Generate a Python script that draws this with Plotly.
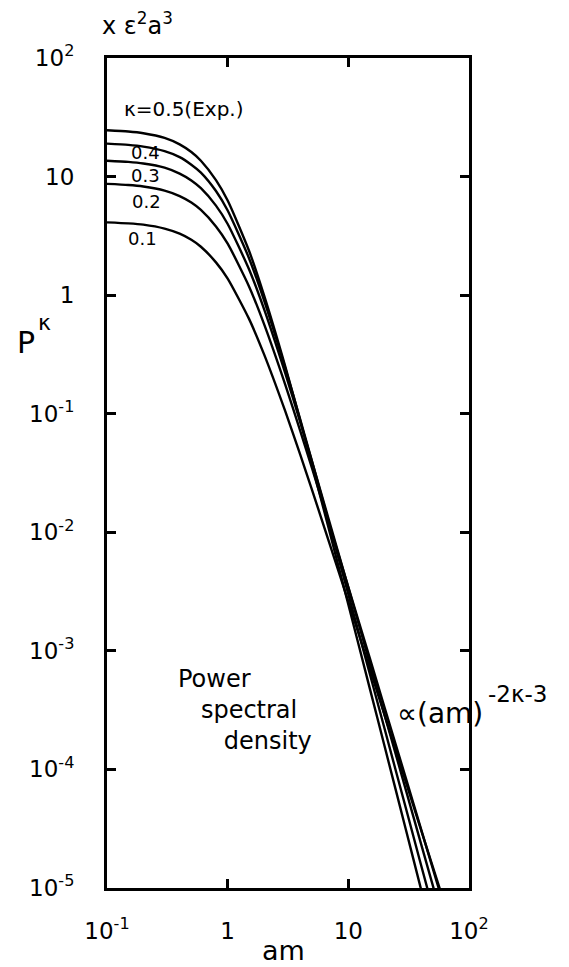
import plotly.graph_objects as go

# Wavenumber (am) sample points
am = [0.1, 0.15, 0.2, 0.3, 0.4, 0.5, 0.6, 0.8, 1, 1.5, 2, 3, 4, 5, 7, 10, 15, 20, 30, 40, 60]

# Power spectral density P^kappa (units x eps^2 a^3)
p_k05 = [24.6, 24.0, 23.2, 21.2, 18.7, 16.1, 13.6, 9.34, 6.28, 2.38, 1.0, 0.251, 0.087, 0.0372, 0.01005, 2.46e-3, 4.9e-4, 1.56e-4, 3.1e-5, 9.8e-6, 1.94e-6]
p_k04 = [18.95, 18.5, 17.9, 16.4, 14.6, 12.6, 10.8, 7.55, 5.17, 2.06, 0.907, 0.243, 0.0887, 0.0396, 0.0114, 3.0e-3, 6.5e-4, 2.19e-4, 4.7e-5, 1.57e-5, 3.4e-6]
p_k03 = [13.6, 13.3, 12.9, 11.9, 10.6, 9.28, 7.98, 5.69, 3.98, 1.66, 0.766, 0.22, 0.0846, 0.0394, 0.0121, 3.42e-3, 8.0e-4, 2.87e-4, 6.7e-5, 2.37e-5, 5.5e-6]
p_k02 = [8.67, 8.49, 8.25, 7.62, 6.85, 6.04, 5.23, 3.8, 2.72, 1.19, 0.572, 0.176, 0.0714, 0.0347, 0.0114, 3.45e-3, 8.8e-4, 3.31e-4, 8.4e-5, 3.15e-5, 7.9e-6]
p_k01 = [4.11, 4.03, 3.93, 3.64, 3.3, 2.93, 2.56, 1.89, 1.38, 0.634, 0.318, 0.105, 0.0449, 0.0228, 8.0e-3, 2.6e-3, 7.2e-4, 2.86e-4, 7.8e-5, 3.1e-5, 8.5e-6]

series = [p_k05, p_k04, p_k03, p_k02, p_k01]

x_tickvals = [0.1, 1, 10, 100]
x_ticktext = ["10<sup>-1</sup>", "1", "10", "10<sup>2</sup>"]
y_tickvals = [1e-5, 1e-4, 1e-3, 1e-2, 1e-1, 1, 10, 100]
y_ticktext = ["10<sup>-5</sup>", "10<sup>-4</sup>", "10<sup>-3</sup>", "10<sup>-2</sup>",
              "10<sup>-1</sup>", "1", "10", "10<sup>2</sup>"]

W, H = 569, 967
L, R, T, B = 107, 100, 58, 79
PW, PH = W - L - R, H - T - B


def px(x):
    return (x - L) / PW


def py(y):
    return (H - B - y) / PH


FONT = "DejaVu Sans"

fig = go.Figure()
for s in series:
    fig.add_trace(go.Scatter(x=am, y=s, mode="lines",
                             line=dict(color="black", width=2.4, shape="spline", smoothing=0.6),
                             showlegend=False, hoverinfo="skip"))

axis_common = dict(type="log", showgrid=False, zeroline=False, showline=True,
                   linecolor="black", linewidth=3, mirror="ticks", ticks="inside",
                   ticklen=9, tickwidth=2.5, tickcolor="black",
                   tickfont=dict(family=FONT, size=23, color="black"))

fig.update_xaxes(range=[-1, 2], tickvals=x_tickvals, ticktext=x_ticktext,
                 ticklabelstandoff=20, **axis_common)
fig.update_yaxes(range=[-5, 2], tickvals=y_tickvals, ticktext=y_ticktext,
                 ticklabelstandoff=25, **axis_common)

ann = []


def add(text, x, y, size, xanchor="left", yanchor="middle", align="left"):
    ann.append(dict(text=text, x=px(x), y=py(y), xref="paper", yref="paper",
                    xanchor=xanchor, yanchor=yanchor, showarrow=False, align=align,
                    font=dict(family=FONT, size=size, color="black")))


NB = "&nbsp;"
add("x ε<sup>2</sup>a<sup>3</sup>", 100, 24, 24)
add("P", 26, 342, 30, xanchor="center")
add("κ", 44, 322, 22, xanchor="center")
add("am", 283, 950, 27, xanchor="center")
add("κ=0.5(Exp.)", 122, 109, 20)
add("0.4", 145, 152, 18, xanchor="center")
add("0.3", 145, 176, 18, xanchor="center")
add("0.2", 146, 201, 18, xanchor="center")
add("0.1", 142, 238, 18, xanchor="center")
add("Power<br>" + NB * 3 + "spectral<br>" + NB * 6 + "density", 176, 710, 24)
add("∝(am)", 395, 713, 28)
add("-2κ-3", 486, 694, 23)

fig.update_layout(width=W, height=H, margin=dict(l=L, r=R, t=T, b=B),
                  paper_bgcolor="white", plot_bgcolor="white",
                  annotations=ann, showlegend=False)

fig.write_html("out.html")
